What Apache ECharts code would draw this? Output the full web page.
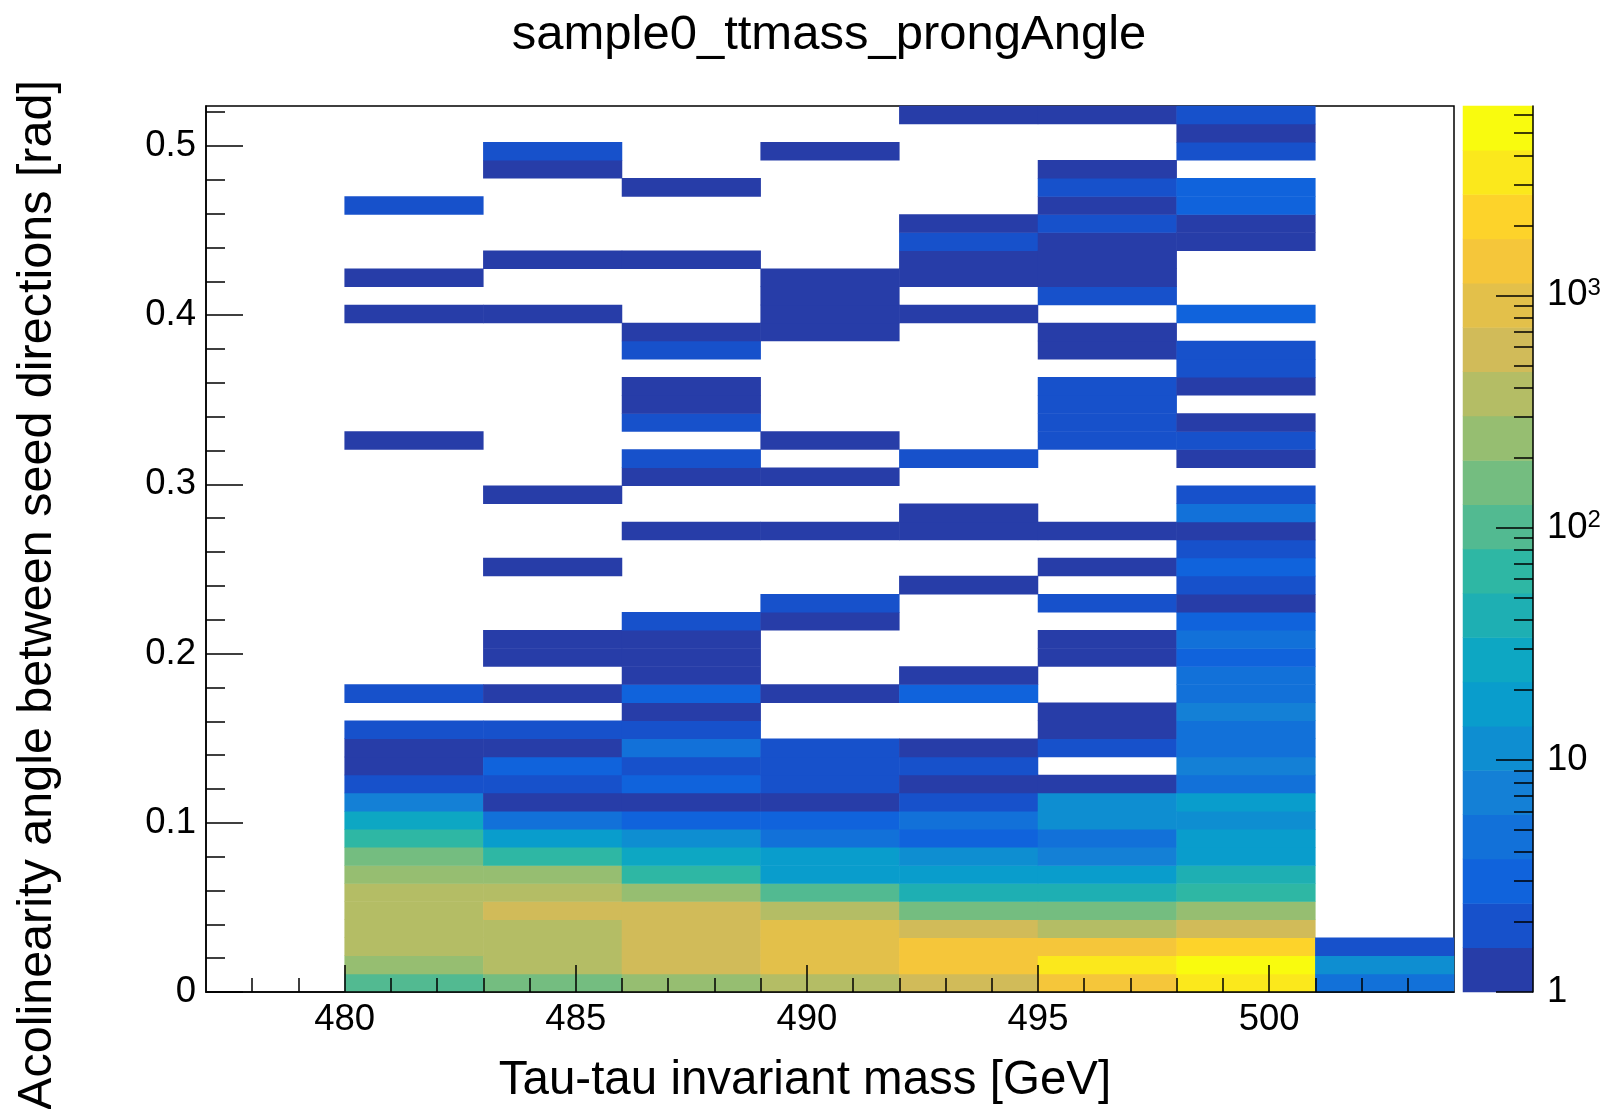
<!DOCTYPE html>
<html><head><meta charset="utf-8">
<script src="https://cdn.jsdelivr.net/npm/echarts@6/dist/echarts.min.js"></script>
<style>html,body{margin:0;padding:0;background:#fff}#c{width:1608px;height:1109px}</style>
</head><body><div id="c"></div><script>
const TITLE = 'sample0_ttmass_prongAngle';
const X_TITLE = 'Tau-tau invariant mass [GeV]';
const Y_TITLE = 'Acolinearity angle between seed directions [rad]';

// mass bins (GeV): lower edges, width 3
const massBinLow = [477, 480, 483, 486, 489, 492, 495, 498, 501];
const massBinWidth = 3;
const massMin = 477, massMax = 504;
// angle bins
const angleBinCount = 49;
const angleMax = 0.5236;

// counts per mass column, angle bin 0 (bottom) .. 48 (top)
const counts477 = [0,0,0,0,0,0,0,0,0,0, 0,0,0,0,0,0,0,0,0,0, 0,0,0,0,0,0,0,0,0,0, 0,0,0,0,0,0,0,0,0,0, 0,0,0,0,0,0,0,0,0];
const counts480 = [100,245,380,350,420,330,240,160,65,27, 7,2,1,1,2,0,2,0,0,0, 0,0,0,0,0,0,0,0,0,0, 1,0,0,0,0,0,0,1,0,1, 0,0,0,2,0,0,0,0,0];
const counts483 = [160,380,400,370,560,360,250,66,17,5, 1,2,3,1,2,0,1,0,1,1, 0,0,0,1,0,0,0,1,0,0, 0,0,0,0,0,0,0,1,0,0, 1,0,0,0,0,1,2,0,0];
const counts486 = [250,600,620,580,640,240,62,26,12,3, 1,3,2,5,2,1,3,1,1,1, 2,0,0,0,0,1,0,0,1,2, 0,2,1,1,0,2,1,0,0,0, 1,0,0,0,1,0,0,0,0];
const counts489 = [370,950,980,930,390,95,18,16,4,3, 1,2,2,2,0,0,1,0,0,0, 1,2,0,0,0,1,0,0,1,0, 1,0,0,0,0,0,1,1,1,1, 0,0,0,0,0,0,1,0,0];
const counts492 = [600,1450,1380,560,170,40,19,11,3,4, 2,1,2,1,0,0,3,1,0,0, 0,0,1,0,0,1,1,0,0,2, 0,0,0,0,0,0,0,1,0,1, 1,2,1,0,0,0,0,0,1];
const counts495 = [1500,3300,1350,350,150,45,16,7,5,12, 11,1,0,2,1,1,0,0,1,1, 0,2,0,1,0,1,0,0,0,0, 2,2,2,2,0,1,1,0,2,1, 1,1,2,1,2,1,0,0,1];
const counts498 = [3500,6500,2300,600,250,70,44,19,16,11, 17,4,7,5,4,7,5,4,3,5, 3,1,2,3,2,1,5,2,0,1, 2,1,0,1,2,2,0,3,0,0, 0,1,1,3,3,0,2,1,2];
const counts501 = [5,11,2,0,0,0,0,0,0,0, 0,0,0,0,0,0,0,0,0,0, 0,0,0,0,0,0,0,0,0,0, 0,0,0,0,0,0,0,0,0,0, 0,0,0,0,0,0,0,0,0];
const columns = [counts477, counts480, counts483, counts486, counts489, counts492, counts495, counts498, counts501];

// axis ticks
const xMajorTicks = [480, 485, 490, 495, 500];
const xMinorTicks = [478, 479, 481, 482, 483, 484, 486, 487, 488, 489, 491, 492, 493, 494, 496, 497, 498, 499, 501, 502, 503];
const yMajorTicks = [0, 0.1, 0.2, 0.3, 0.4, 0.5];
const yMinorTicks = [0.02, 0.04, 0.06, 0.08, 0.12, 0.14, 0.16, 0.18, 0.22, 0.24, 0.26, 0.28, 0.32, 0.34, 0.36, 0.38, 0.42, 0.44, 0.46, 0.48, 0.52];
// colour scale
const zMin = 1, zMax = 6540, zContours = 20;
const zMajorTicks = [1, 10, 100, 1000];
const zMinorTicks = [2,3,4,5,6,7,8,9, 20,30,40,50,60,70,80,90, 200,300,400,500,600,700,800,900, 2000,3000,4000,5000,6000];

// ROOT kBird palette
const birdStops = [0.0, 0.125, 0.25, 0.375, 0.5, 0.625, 0.75, 0.875, 1.0];
const birdR = [0.2082, 0.0592, 0.0780, 0.0232, 0.1802, 0.5301, 0.8186, 0.9956, 0.9764];
const birdG = [0.1664, 0.3599, 0.5041, 0.6419, 0.7178, 0.7492, 0.7328, 0.7862, 0.9832];
const birdB = [0.5293, 0.8684, 0.8385, 0.7914, 0.6425, 0.4662, 0.3499, 0.1968, 0.0539];
function bird(t) {
  let i = 0;
  while (i < birdStops.length - 2 && t > birdStops[i + 1]) i++;
  const f = (t - birdStops[i]) / (birdStops[i + 1] - birdStops[i]);
  const c = a => Math.round(255 * (a[i] + (a[i + 1] - a[i]) * f));
  return 'rgb(' + c(birdR) + ',' + c(birdG) + ',' + c(birdB) + ')';
}
const zLogRange = Math.log10(zMax / zMin);
const bandColors = [];
const pieces = [];
for (let k = 0; k < zContours; k++) {
  const idx = Math.floor((k + 0.99) * 255 / zContours);
  bandColors.push(bird(Math.min(idx, 254) / 254));
  const lo = k * zLogRange / zContours, hi = (k + 1) * zLogRange / zContours;
  const p = { gte: lo, color: bandColors[k] };
  if (k < zContours - 1) p.lt = hi; else p.lte = hi + 1;
  pieces.push(p);
}

const xCats = massBinLow.map(v => String(v));
const yCats = [];
for (let r = 0; r < angleBinCount; r++) yCats.push(String(r));
const heatData = [];
columns.forEach((col, i) => col.forEach((n, r) => { if (n > 0) heatData.push([i, r, Math.log10(n / zMin)]); }));
const barCats = [];
const barData = [];
for (let k = 0; k < zContours; k++) { barCats.push(String(k)); barData.push([0, k, (k + 0.5) * zLogRange / zContours]); }

const FONT = "'Liberation Sans', Arial, Helvetica, sans-serif";
const chart = echarts.init(document.getElementById('c'), null, { renderer: 'canvas' });
const hidden = { axisLine: { show: false }, axisTick: { show: false }, axisLabel: { show: false }, splitLine: { show: false } };
chart.setOption({
  animation: false,
  backgroundColor: '#fff',
  grid: [
    { left: 206, top: 106, width: 1248, height: 886, show: true, borderColor: '#000', borderWidth: 1.5, backgroundColor: 'transparent' },
    { left: 1463, top: 106, width: 70, height: 886, show: false }
  ],
  xAxis: [
    Object.assign({ type: 'category', gridIndex: 0, data: xCats, boundaryGap: true }, hidden),
    { type: 'value', gridIndex: 0, min: massMin, max: massMax, position: 'bottom', z: 10,
      axisLine: { show: true, lineStyle: { color: '#000', width: 1.5 } },
      axisTick: { show: true, inside: true, length: 27, customValues: xMajorTicks, lineStyle: { color: '#000', width: 1.5 } },
      axisLabel: { show: true, customValues: xMajorTicks, fontSize: 36.5, fontFamily: FONT, color: '#000', margin: 9 },
      splitLine: { show: false } },
    { type: 'value', gridIndex: 0, min: massMin, max: massMax, position: 'bottom', z: 10,
      axisLine: { show: false },
      axisTick: { show: true, inside: true, length: 14, customValues: xMinorTicks, lineStyle: { color: '#000', width: 1.5 } },
      axisLabel: { show: false }, splitLine: { show: false } },
    Object.assign({ type: 'category', gridIndex: 1, data: ['z'], boundaryGap: true }, hidden)
  ],
  yAxis: [
    Object.assign({ type: 'category', gridIndex: 0, data: yCats, boundaryGap: true }, hidden),
    { type: 'value', gridIndex: 0, min: 0, max: angleMax, position: 'left', z: 10,
      axisLine: { show: true, lineStyle: { color: '#000', width: 1.5 } },
      axisTick: { show: true, inside: true, length: 37, customValues: yMajorTicks, lineStyle: { color: '#000', width: 1.5 } },
      axisLabel: { show: true, customValues: yMajorTicks, fontSize: 36.5, fontFamily: FONT, color: '#000', margin: 10 },
      splitLine: { show: false } },
    { type: 'value', gridIndex: 0, min: 0, max: angleMax, position: 'left', z: 10,
      axisLine: { show: false },
      axisTick: { show: true, inside: true, length: 19, customValues: yMinorTicks, lineStyle: { color: '#000', width: 1.5 } },
      axisLabel: { show: false }, splitLine: { show: false } },
    Object.assign({ type: 'category', gridIndex: 1, data: barCats, boundaryGap: true }, hidden),
    { type: 'value', gridIndex: 1, min: 0, max: zLogRange, position: 'right', z: 10,
      axisLine: { show: true, lineStyle: { color: '#000', width: 1.5 } },
      axisTick: { show: true, inside: true, length: 37, customValues: zMajorTicks.map(v => Math.log10(v / zMin)), lineStyle: { color: '#000', width: 1.5 } },
      axisLabel: { show: true, customValues: zMajorTicks.map(v => Math.log10(v / zMin)), margin: 14, fontSize: 36.5, fontFamily: FONT, color: '#000',
        formatter: v => { const e = Math.round(v + Math.log10(zMin)); return e === 0 ? '1' : (e === 1 ? '10' : '10{sup|' + e + '}'); },
        rich: { sup: { fontSize: 24, fontFamily: FONT, color: '#000', verticalAlign: 'top', padding: [0, 0, 14, 0] } } },
      splitLine: { show: false } },
    { type: 'value', gridIndex: 1, min: 0, max: zLogRange, position: 'right', z: 10,
      axisLine: { show: false },
      axisTick: { show: true, inside: true, length: 19, customValues: zMinorTicks.map(v => Math.log10(v / zMin)), lineStyle: { color: '#000', width: 1.5 } },
      axisLabel: { show: false }, splitLine: { show: false } }
  ],
  visualMap: {
    type: 'piecewise', show: false, dimension: 2, seriesIndex: [0, 1], pieces: pieces
  },
  series: [
    { type: 'heatmap', xAxisIndex: 0, yAxisIndex: 0, data: heatData, itemStyle: { borderWidth: 0 }, emphasis: { disabled: true }, progressive: 0 },
    { type: 'heatmap', xAxisIndex: 3, yAxisIndex: 3, data: barData, itemStyle: { borderWidth: 0 }, emphasis: { disabled: true } }
  ],
  graphic: [
    { type: 'text', x: 829, y: 35, style: { text: TITLE, fontSize: 49, fontFamily: FONT, fill: '#000', align: 'center', verticalAlign: 'middle' } },
    { type: 'text', x: 805, y: 1081, style: { text: X_TITLE, fontSize: 47.5, fontFamily: FONT, fill: '#000', align: 'center', verticalAlign: 'middle' } },
    { type: 'text', x: 38, y: 595, rotation: Math.PI / 2, style: { text: Y_TITLE, fontSize: 48.5, fontFamily: FONT, fill: '#000', align: 'center', verticalAlign: 'middle' } }
  ]
});
</script></body></html>
